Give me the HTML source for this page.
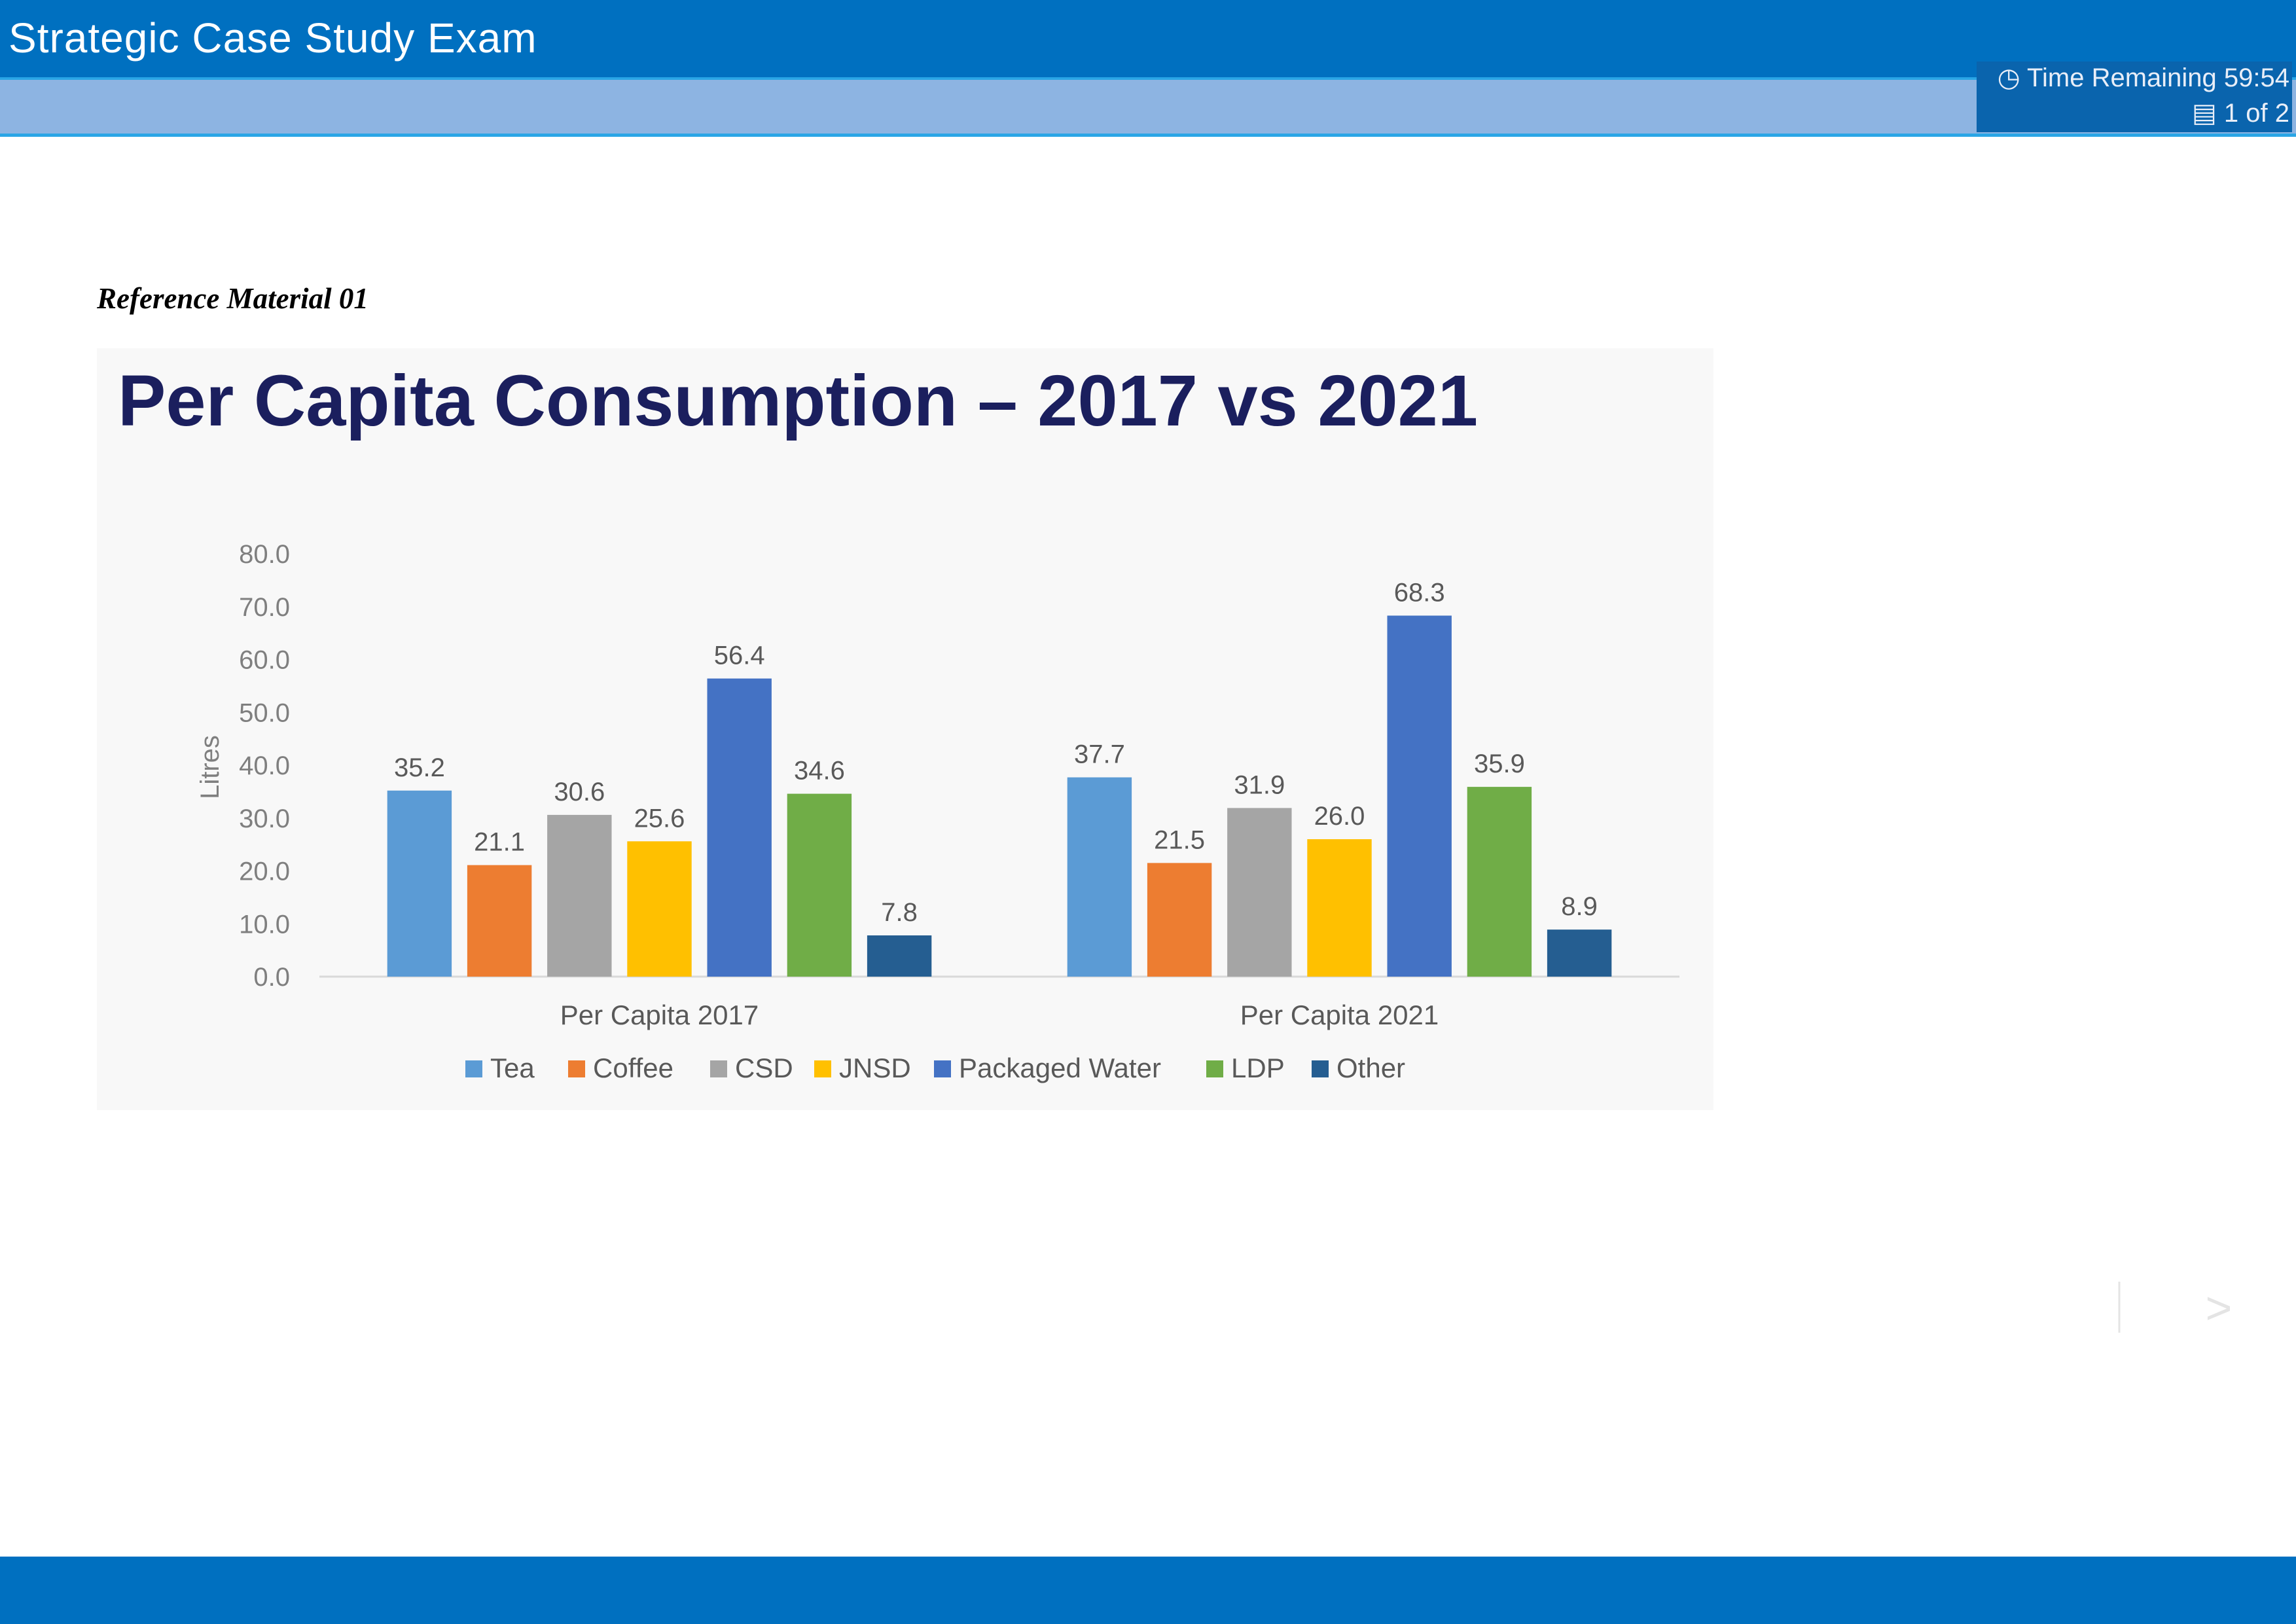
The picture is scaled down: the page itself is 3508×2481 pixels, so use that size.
<!DOCTYPE html>
<html><head><meta charset="utf-8">
<style>
body{margin:0;width:3508px;height:2481px;position:relative;background:#fff;font-family:"Liberation Sans",sans-serif;overflow:hidden}
.abs{position:absolute}
</style></head><body>
<div class="abs" style="left:0;top:0;width:3508px;height:118px;background:#0070c0;border-bottom:4px solid #2aa6e6"></div>
<div class="abs" style="left:13px;top:26px;font-size:64px;color:#fff;line-height:1;letter-spacing:1px">Strategic Case Study Exam</div>
<div class="abs" style="left:0;top:122px;width:3508px;height:82px;background:#8db4e2;border-bottom:5px solid #2aa6e6"></div>
<div class="abs" style="left:3020px;top:94px;width:482px;height:108px;background:#0a64ad"></div>
<div class="abs" style="right:10px;top:94px;font-size:40px;color:#e8eef8;line-height:50px">&#9719; Time Remaining 59:54</div>
<div class="abs" style="right:10px;top:148px;font-size:40px;color:#e8eef8;line-height:50px">&#9636; 1 of 2</div>
<div class="abs" style="left:148px;top:430px;font-family:'Liberation Serif',serif;font-style:italic;font-weight:bold;font-size:45px;color:#000">Reference Material 01</div>
<svg class="abs" style="left:0;top:0" width="3508" height="2481">
<rect x="148" y="532" width="2470" height="1164" fill="#f8f8f8"/>
<text x="180" y="650" font-size="110" font-weight="bold" fill="#1b1f5e" font-family="Liberation Sans" textLength="2078" lengthAdjust="spacingAndGlyphs">Per Capita Consumption – 2017 vs 2021</text>
<g id="plot"></g>
<line x1="3238" y1="1958" x2="3238" y2="2036" stroke="#e4e4e4" stroke-width="3"/>
<text x="3390" y="2022" font-size="70" fill="#e4e4e4" text-anchor="middle">&gt;</text>
</svg>
<div class="abs" style="left:0;top:2378px;width:3508px;height:103px;background:#0070c0"></div>
<script>
const categories=["Per Capita 2017","Per Capita 2021"];
const seriesNames=["Tea","Coffee","CSD","JNSD","Packaged Water","LDP","Other"];
const seriesColors=["#5b9bd5","#ed7d31","#a5a5a5","#ffc000","#4472c4","#70ad47","#255e91"];
const values2017=[35.2,21.1,30.6,25.6,56.4,34.6,7.8];
const values2021=[37.7,21.5,31.9,26.0,68.3,35.9,8.9];
const yTicks=[0,10,20,30,40,50,60,70,80];
const NS="http://www.w3.org/2000/svg";
const g=document.getElementById('plot');
const X0=488,X1=2566,Y0=1492,Y80=846;
function y(v){return Y0-(v/80)*(Y0-Y80);}
const catW=(X1-X0)/categories.length;
function cx(i){return X0+catW*(i+0.5);}
const step=122.2,bw=98.4;
function mk(tag,attrs,txt){const e=document.createElementNS(NS,tag);for(const k in attrs)e.setAttribute(k,attrs[k]);if(txt!==undefined)e.textContent=txt;g.appendChild(e);return e;}
yTicks.forEach(t=>{
 const e=mk('text',{x:443,y:y(t)+14,'font-size':40,fill:'#7f7f7f','text-anchor':'end'},t.toFixed(1));
 
 
});
const yt=mk('text',{x:0,y:0,'font-size':40,fill:'#7f7f7f','text-anchor':'middle',transform:'translate(334,1172) rotate(-90)'},'Litres');


const ax=mk('line',{x1:X0,y1:Y0,x2:X1,y2:Y0,stroke:'#d9d9d9','stroke-width':3});


[values2017,values2021].forEach((vals,ci)=>{
 vals.forEach((v,si)=>{
  const bx=cx(ci)+(si-3)*step-bw/2;
  const r=mk('rect',{x:bx,y:y(v),width:bw,height:Y0-y(v),fill:seriesColors[si]});
  
  
  const l=mk('text',{x:bx+bw/2,y:y(v)-22,'font-size':40,fill:'#595959','text-anchor':'middle'},v.toFixed(1));
  
  
 });
 const c=mk('text',{x:cx(ci),y:1565,'font-size':42,fill:'#595959','text-anchor':'middle'},categories[ci]);
 
 
});
const legX=[711,868,1085,1244,1427,1843,2004];
seriesNames.forEach((n,i)=>{
 const s=mk('rect',{x:legX[i],y:1620,width:26,height:26,fill:seriesColors[i]});
 
 
 const t=mk('text',{x:legX[i]+38,y:1646,'font-size':42,fill:'#595959'},n);
 
 
});
</script>
</body></html>
